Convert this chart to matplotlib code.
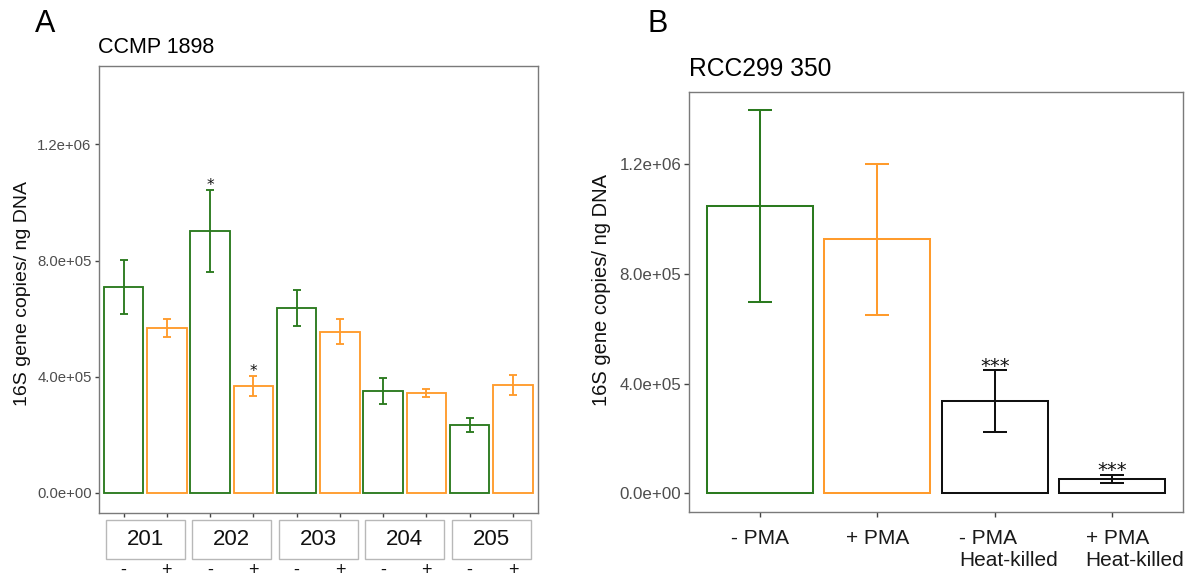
import matplotlib.pyplot as plt
from matplotlib.patches import Rectangle
from matplotlib.ticker import FuncFormatter
from matplotlib.transforms import ScaledTranslation, blended_transform_factory

plt.rcParams['font.family'] = ['Liberation Sans', 'DejaVu Sans']

# Panel A: CCMP 1898, five strains, without (-) and with (+) PMA
strains = ['201', '202', '203', '204', '205']
pma_signs = ['-', '+']
a_means = [709000, 568000, 902000, 367000, 638000, 554000, 350000, 343000, 234000, 372000]
a_err = [92000, 30000, 141000, 34000, 62000, 43000, 44000, 13000, 25000, 35000]
a_stars = ['', '', '*', '*', '', '', '', '', '', '']

# Panel B: RCC299 350
b_labels = ['- PMA', '+ PMA', '- PMA\nHeat-killed', '+ PMA\nHeat-killed']
b_means = [1047000, 926000, 337000, 52000]
b_err = [351000, 275000, 112000, 16000]
b_stars = ['', '', '***', '***']

yticks = [0, 400000, 800000, 1200000]

GREEN = '#2b7a1f'
ORANGE = '#ff9b2c'
BLACK = '#111111'
SPINE = '#7a7a7a'
TICKTXT = '#4d4d4d'

fig = plt.figure(figsize=(11.9, 5.84), dpi=100)
axA = fig.add_axes([0.0828, 0.1224, 0.3693, 0.7646])
axB = fig.add_axes([0.579, 0.1238, 0.4151, 0.7192])

sci = FuncFormatter(lambda v, p: f'{v:.1e}')


def draw_bars(ax, means, errs, colors, stars, width, cap, lw, star_size, star_off):
    x = list(range(len(means)))
    ax.bar(x, means, width=width, fill=False, edgecolor=colors, linewidth=lw)
    for xi, m, e, c, s in zip(x, means, errs, colors, stars):
        ax.errorbar(xi, m, yerr=e, fmt='none', ecolor=c, elinewidth=lw,
                    capsize=cap, capthick=lw)
        if s:
            ax.annotate(s, (xi, m + e), xytext=(0, star_off), textcoords='offset points',
                        ha='center', va='baseline', fontsize=star_size, color=BLACK,
                        family='DejaVu Sans')
    for sp in ax.spines.values():
        sp.set_color(SPINE)
        sp.set_linewidth(1.0)
    ax.set_yticks(yticks)
    ax.yaxis.set_major_formatter(sci)


# ---- panel A ----
a_colors = [GREEN, ORANGE] * len(strains)
draw_bars(axA, a_means, a_err, a_colors, a_stars, 0.91, 3.2, 1.35, 11, 0)
axA.set_xlim(-0.58, 9.58)
axA.set_ylim(-68000, 1470000)
axA.set_xticks(range(len(a_means)))
axA.set_xticklabels(pma_signs * len(strains))
axA.tick_params(axis='x', length=3, width=1, color='#444444', pad=32.5,
                labelsize=13, labelcolor=BLACK)
axA.tick_params(axis='y', length=3, width=1, color='#444444', labelsize=10.7,
                labelcolor=TICKTXT, pad=2)
axA.set_ylabel('16S gene copies/ ng DNA', fontsize=14, color=BLACK)
axA.yaxis.set_label_coords(-0.1536, 0.4916)

trans = blended_transform_factory(axA.transData, axA.transAxes)
for i, s in enumerate(strains):
    cx = 2 * i + 0.5
    axA.add_patch(Rectangle((cx - 0.915, -0.1041), 1.83, 0.0873, transform=trans,
                            clip_on=False, facecolor='white', edgecolor='#b8b8b8',
                            linewidth=1.0))
    axA.text(cx, -0.0604, s, transform=trans, ha='center', va='center',
             fontsize=16, color=BLACK)

# ---- panel B ----
b_colors = [GREEN, ORANGE, BLACK, BLACK]
draw_bars(axB, b_means, b_err, b_colors, b_stars, 0.9, 8.3, 1.45, 14, -1)
axB.set_xlim(-0.6, 3.6)
axB.set_ylim(-67000, 1464000)
axB.set_xticks(range(len(b_labels)))
axB.set_xticklabels(b_labels)
axB.tick_params(axis='x', length=3.5, width=1, color='#444444', pad=8.6,
                labelsize=15, labelcolor='#1a1a1a')
axB.tick_params(axis='y', length=3.5, width=1, color='#444444', labelsize=12.2,
                labelcolor=TICKTXT, pad=2)
shifts = [0, 0, 0.135, 0.226]
for lab, dx in zip(axB.get_xticklabels(), shifts):
    lab.set_multialignment('left')
    lab.set_transform(lab.get_transform() + ScaledTranslation(dx, 0, fig.dpi_scale_trans))
axB.set_ylabel('16S gene copies/ ng DNA', fontsize=14.5, color=BLACK)
axB.yaxis.set_label_coords(-0.158, 0.5267)

# titles and panel letters
fig.text(0.0824, 0.9098, 'CCMP 1898', fontsize=15.5, va='baseline', ha='left')
fig.text(0.579, 0.8699, 'RCC299 350', fontsize=17.7, va='baseline', ha='left')
fig.text(0.0294, 0.945, 'A', fontsize=22, va='baseline', ha='left')
fig.text(0.5445, 0.945, 'B', fontsize=22, va='baseline', ha='left')

fig.savefig('out.png', dpi=100)
